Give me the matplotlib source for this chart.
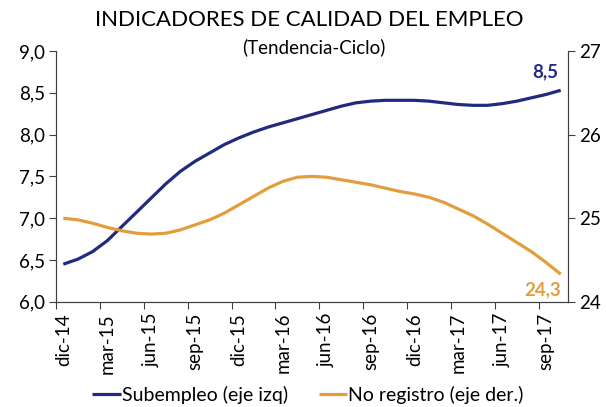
import matplotlib
matplotlib.use("Agg")
import matplotlib.pyplot as plt

months = ["dic-14", "ene-15", "feb-15", "mar-15", "abr-15", "may-15", "jun-15",
          "jul-15", "ago-15", "sep-15", "oct-15", "nov-15", "dic-15",
          "ene-16", "feb-16", "mar-16", "abr-16", "may-16", "jun-16",
          "jul-16", "ago-16", "sep-16", "oct-16", "nov-16", "dic-16",
          "ene-17", "feb-17", "mar-17", "abr-17", "may-17", "jun-17",
          "jul-17", "ago-17", "sep-17", "oct-17"]

subempleo = [6.45, 6.51, 6.60, 6.73, 6.90, 7.07, 7.24, 7.41, 7.56, 7.68,
             7.78, 7.88, 7.96, 8.03, 8.09, 8.14, 8.19, 8.24, 8.29, 8.34,
             8.38, 8.40, 8.41, 8.41, 8.41, 8.40, 8.38, 8.36, 8.35, 8.35,
             8.37, 8.40, 8.44, 8.48, 8.53]

no_registro = [25.00, 24.98, 24.94, 24.89, 24.85, 24.82, 24.81, 24.82, 24.86,
               24.92, 24.98, 25.06, 25.16, 25.26, 25.36, 25.44, 25.49, 25.50,
               25.49, 25.46, 25.43, 25.40, 25.36, 25.32, 25.29, 25.25, 25.19,
               25.11, 25.03, 24.93, 24.82, 24.71, 24.60, 24.47, 24.33]

BLUE = "#1f2a80"
ORANGE = "#e29e3c"
FONT = "Lato"

plt.rcParams["font.family"] = [FONT, "DejaVu Sans"]

fig = plt.figure(figsize=(6.06, 4.07), dpi=100)
ax = fig.add_axes([0.0924, 0.2585, 0.8449, 0.6162])
ax2 = ax.twinx()

x = list(range(len(months)))
l1, = ax.plot(x, subempleo, color=BLUE, linewidth=2.3, solid_capstyle="butt")
l2, = ax2.plot(x, no_registro, color=ORANGE, linewidth=2.3, solid_capstyle="butt")

ax.set_xlim(-0.5, len(months) - 0.5)
ax.set_ylim(6.0, 9.0)
ax2.set_ylim(24, 27)

ax.set_yticks([6.0, 6.5, 7.0, 7.5, 8.0, 8.5, 9.0])
ax.set_yticklabels([f"{v:.1f}".replace(".", ",") for v in ax.get_yticks()])
ax2.set_yticks([24, 25, 26, 27])

# ticks at category boundaries, labels at category centres
ax.set_xticks([i - 0.5 for i in range(0, len(months), 3)])
ax.set_xticklabels([])
ax.set_xticks(list(range(0, len(months), 3)), minor=True)
ax.set_xticklabels(months[::3], minor=True, rotation=90)
ax.tick_params(axis="x", which="major", length=5, width=0.8, color="#404040")
ax.tick_params(axis="x", which="minor", length=0, pad=8, labelsize=13.5)
ax.tick_params(axis="y", length=5, width=0.8, color="#404040", labelsize=13.5, pad=3)
ax2.tick_params(axis="y", length=5, width=0.8, color="#404040", labelsize=13.5, pad=3)

for a in (ax, ax2):
    a.spines["top"].set_visible(False)
    for s in a.spines.values():
        s.set_color("#404040")
        s.set_linewidth(0.8)

ax.annotate("8,5", xy=(x[-1], subempleo[-1]), xytext=(-2, 7),
            textcoords="offset points", ha="right", va="bottom",
            color=BLUE, fontsize=13.5, fontweight="bold")
ax2.annotate("24,3", xy=(x[-1], no_registro[-1]), xytext=(0, -5),
             textcoords="offset points", ha="right", va="top",
             color=ORANGE, fontsize=13.5, fontweight="bold")

fig.text(0.51, 0.951, "INDICADORES DE CALIDAD DEL EMPLEO", ha="center",
         va="center", fontsize=16)
fig.text(0.518, 0.885, "(Tendencia-Ciclo)", ha="center", va="center",
         fontsize=13.5)

fig.legend([l1, l2], ["Subempleo (eje izq)", "No registro (eje der.)"],
           loc="center", bbox_to_anchor=(0.508, 0.030), ncol=2, frameon=False,
           fontsize=14, handlelength=1.45, handletextpad=0.05,
           columnspacing=1.6)

fig.savefig("out.png", dpi=100)
